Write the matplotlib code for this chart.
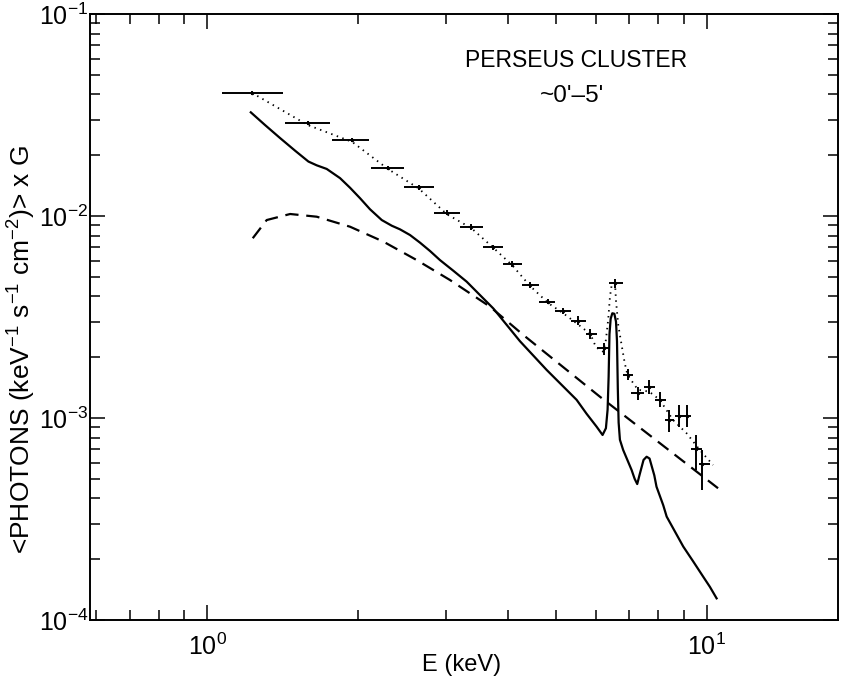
import matplotlib
matplotlib.use('Agg')
from matplotlib import pyplot as plt
import numpy as np

plt.rcParams['font.family'] = ['Liberation Sans', 'DejaVu Sans']
plt.rcParams['mathtext.default'] = 'regular'

# data points (energy bins, keV) and flux
pt_e = [1.23, 1.59, 1.95, 2.30, 2.65, 3.02, 3.38, 3.73, 4.08, 4.43, 4.82, 5.16, 5.53,
        5.85, 6.22, 6.55, 6.94, 7.27, 7.67, 8.05, 8.40, 8.81, 9.11, 9.52, 9.80]
pt_e_lo = [1.07, 1.43, 1.78, 2.13, 2.48, 2.85, 3.20, 3.56, 3.91, 4.27, 4.61, 4.97, 5.35,
           5.72, 6.04, 6.38, 6.79, 7.06, 7.49, 7.87, 8.23, 8.63, 8.96, 9.31, 9.64]
pt_e_hi = [1.42, 1.76, 2.11, 2.48, 2.85, 3.20, 3.56, 3.91, 4.27, 4.61, 4.97, 5.35, 5.72,
           6.04, 6.38, 6.80, 7.12, 7.49, 7.87, 8.27, 8.60, 8.96, 9.31, 9.77, 10.14]
pt_f = [0.0407, 0.0288, 0.0238, 0.0173, 0.0139, 0.0104, 0.0088, 0.0070, 0.0058, 0.00455,
        0.00377, 0.0034, 0.00303, 0.00261, 0.00221, 0.00465, 0.00164, 0.00133, 0.00143,
        0.00123, 0.00098, 0.00102, 0.00102, 0.00070, 0.00059]
pt_f_lo = [0.0398, 0.0281, 0.0232, 0.0169, 0.0135, 0.0101, 0.0085, 0.0068, 0.0056, 0.0044,
           0.00365, 0.00328, 0.00288, 0.00246, 0.00206, 0.00442, 0.00155, 0.00123, 0.00132,
           0.00114, 0.000855, 0.000906, 0.000906, 0.000553, 0.00044]
pt_f_hi = [0.0416, 0.0295, 0.0244, 0.0177, 0.0143, 0.0107, 0.0091, 0.0072, 0.0060, 0.0047,
           0.0039, 0.00352, 0.00319, 0.00276, 0.00236, 0.00489, 0.00174, 0.00143, 0.00154,
           0.00135, 0.00110, 0.00116, 0.00116, 0.000824, 0.000695]

# solid model curve
solid_e = [1.223, 1.306, 1.40, 1.50, 1.595, 1.657, 1.735, 1.845, 1.932, 2.023, 2.118,
           2.236, 2.342, 2.432, 2.547, 2.667, 2.793, 2.924, 3.109, 3.307, 3.516, 3.737,
           4.227, 4.78, 5.488, 5.745, 6.017, 6.185, 6.281, 6.33, 6.36, 6.385, 6.42,
           6.47, 6.53, 6.58, 6.61, 6.635, 6.66, 6.70, 6.80, 7.07, 7.17, 7.256, 7.33,
           7.47, 7.577, 7.68, 7.85, 7.93, 8.18, 8.31, 8.97, 9.39, 9.83, 10.14, 10.46]
solid_f = [0.0326, 0.0282, 0.0243, 0.02105, 0.0186, 0.01782, 0.0171, 0.0154, 0.0138,
           0.01225, 0.0108, 0.00955, 0.00895, 0.00859, 0.00805, 0.00738, 0.00671, 0.00605,
           0.00536, 0.00473, 0.00406, 0.00349, 0.0024, 0.00173, 0.00123, 0.00105,
           0.000906, 0.000824, 0.00089, 0.0011, 0.0016, 0.0026, 0.0031, 0.0033, 0.00328,
           0.0030, 0.0024, 0.0014, 0.00095, 0.00078, 0.000695, 0.000553, 0.0005,
           0.000471, 0.00052, 0.00062, 0.000643, 0.00063, 0.00052, 0.000457, 0.00037,
           0.000325, 0.000231, 0.000195, 0.000164, 0.000146, 0.000128]

# dashed continuum
dash_e = [1.234, 1.316, 1.466, 1.657, 1.932, 2.252, 2.627, 3.062, 3.681, 4.29, 6.109, 10.53]
dash_f = [0.00776, 0.00955, 0.01023, 0.00992, 0.00885, 0.00747, 0.00605, 0.00482,
          0.00356, 0.00258, 0.001275, 0.000449]

# dotted total model
dot_e = [1.23, 1.59, 1.95, 2.30, 2.65, 3.02, 3.38, 3.73, 4.08, 4.43, 4.82, 5.16, 5.53,
         5.85, 6.0, 6.2, 6.28, 6.35, 6.40, 6.45, 6.55, 6.58, 6.65, 6.76, 6.85, 6.94,
         7.28, 7.67, 8.05, 8.56, 9.11, 9.68, 10.29]
dot_f = [0.0407, 0.0282, 0.0233, 0.0171, 0.0137, 0.0102, 0.0087, 0.0070, 0.0057, 0.0045,
         0.0037, 0.0033, 0.0029, 0.0026, 0.00224, 0.00213, 0.00243, 0.0031, 0.0040,
         0.00455, 0.00465, 0.0038, 0.00287, 0.00226, 0.00187, 0.00163, 0.00138, 0.00135,
         0.00123, 0.000977, 0.00084, 0.000695, 0.000585]

fig = plt.figure(figsize=(8.47, 6.83), dpi=100)
ax = fig.add_axes([90/847, 1-620/683, 748/847, 606/683])

e = np.array(pt_e)
f = np.array(pt_f)
xerr = [e - np.array(pt_e_lo), np.array(pt_e_hi) - e]
yerr = [f - np.array(pt_f_lo), np.array(pt_f_hi) - f]
ax.errorbar(e, f, xerr=xerr, yerr=yerr, fmt='.', color='black', markersize=3,
            elinewidth=1.4, capsize=0)

ax.plot(solid_e, solid_f, color='black', lw=1.6)
ax.plot(dash_e, dash_f, color='black', lw=1.6, dashes=(6, 3.5))
ax.plot(dot_e, dot_f, color='black', lw=1.3, linestyle=(0, (0.8, 2.5)))

ax.set_xscale('log')
ax.set_yscale('log')
ax.set_xlim(0.583, 18.3)
ax.set_ylim(1e-4, 1e-1)

for s in ax.spines.values():
    s.set_linewidth(1.4)
ax.tick_params(which='both', direction='in', top=True, right=True, width=1.1,
               labelsize=18)
ax.tick_params(which='major', length=11)
ax.tick_params(which='minor', length=7)
ax.tick_params(axis='x', which='both', pad=10)
ax.tick_params(axis='y', which='both', pad=1)

ax.text(0.65, 0.924, 'PERSEUS CLUSTER', transform=ax.transAxes, ha='center',
        va='center', fontsize=16.5)
ax.text(0.645, 0.865, '~0\'\u20135\'', transform=ax.transAxes, ha='center',
        va='center', fontsize=17.5)

fig.text(22/847, 1-349/683, r'<PHOTONS (keV$^{-1}$ s$^{-1}$ cm$^{-2}$)> x G',
         rotation=90, ha='center', va='center', fontsize=19)
fig.text(462/847, 1-665/683, 'E (keV)', ha='center', va='center', fontsize=17)

plt.savefig('out.png', dpi=100)
